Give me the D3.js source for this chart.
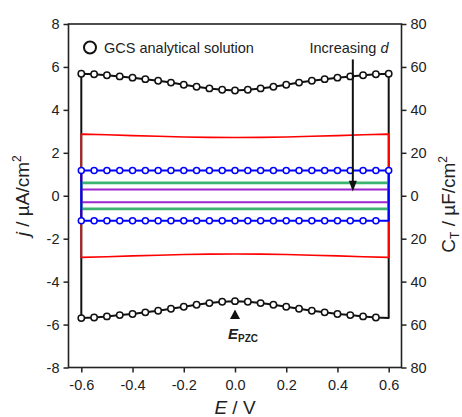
<!DOCTYPE html>
<html>
<head>
<meta charset="utf-8">
<script src="https://cdn.jsdelivr.net/npm/d3@7"></script>
<style>
  body { margin: 0; background: #fff; }
  svg { display: block; font-family: Arial, "Liberation Sans", sans-serif; }
</style>
</head>
<body>
<div id="chart"></div>
<script>
// potentials (V) of the GCS markers
const potentials = [-0.6, -0.55, -0.5, -0.45, -0.4, -0.35, -0.3, -0.25, -0.2, -0.15, -0.1, -0.05,
    0, 0.05, 0.1, 0.15, 0.2, 0.25, 0.3, 0.35, 0.4, 0.45, 0.5, 0.55, 0.6];
// GCS analytical solution, forward (anodic) branch, uA/cm2
const gcsForward = [5.68, 5.66, 5.61, 5.56, 5.50, 5.43, 5.36, 5.27, 5.17, 5.08, 5.00, 4.94,
    4.90, 4.94, 5.00, 5.08, 5.17, 5.27, 5.36, 5.43, 5.50, 5.56, 5.61, 5.66, 5.68];
// reverse branch
const gcsReverse = [-5.70, -5.67, -5.62, -5.56, -5.51, -5.43, -5.36, -5.26, -5.17, -5.08, -5.00, -4.94,
    -4.91, -4.94, -5.00, -5.08, -5.17, -5.26, -5.36, -5.43, -5.51, -5.56, -5.62, -5.67, -5.70];

// simulated CVs for increasing d
const redPotentials = [-0.6, -0.5, -0.4, -0.3, -0.2, -0.1, 0, 0.1, 0.2, 0.3, 0.4, 0.5, 0.6];
const redForward = [2.87, 2.84, 2.80, 2.77, 2.74, 2.72, 2.71, 2.72, 2.74, 2.77, 2.80, 2.84, 2.87];
const redReverse = [-2.87, -2.84, -2.80, -2.77, -2.74, -2.72, -2.71, -2.72, -2.74, -2.77, -2.80, -2.84, -2.87];

const bluePotentials = potentials;
const blueForward = [1.18, 1.18, 1.18, 1.18, 1.18, 1.18, 1.18, 1.18, 1.18, 1.18, 1.18, 1.18, 1.18,
    1.18, 1.18, 1.18, 1.18, 1.18, 1.18, 1.18, 1.18, 1.18, 1.18, 1.18, 1.18];
const blueReverse = [-1.17, -1.17, -1.17, -1.17, -1.17, -1.17, -1.17, -1.17, -1.17, -1.17, -1.17, -1.17, -1.17,
    -1.17, -1.17, -1.17, -1.17, -1.17, -1.17, -1.17, -1.17, -1.17, -1.17, -1.17, -1.17];

const flatPotentials = [-0.6, 0.6];
const greenForward = [0.60, 0.60];
const greenReverse = [-0.61, -0.61];
const purpleForward = [0.29, 0.29];
const purpleReverse = [-0.30, -0.30];

const xTicks = [-0.6, -0.4, -0.2, 0.0, 0.2, 0.4, 0.6];
const yTicks = [-8, -6, -4, -2, 0, 2, 4, 6, 8];
const ctTickLabels = ["80", "60", "40", "20", "0", "20", "40", "60", "80"];

const W = 462, H = 417;
const svg = d3.select("#chart").append("svg")
    .attr("width", W)
    .attr("height", H);

const x = d3.scaleLinear().domain([-0.65, 0.65]).range([68.5, 401.5]);
const y = d3.scaleLinear().domain([-8, 8]).range([367.5, 24]);

// a CV loop: forward branch, then the reverse branch back
function loop(pots, fwd, rev) {
    const pts = pots.map((e, i) => [e, fwd[i]]);
    const back = pots.map((e, i) => [e, rev[i]]).reverse();
    return pts.concat(back);
}

const line = d3.line().x(d => x(d[0])).y(d => y(d[1]));

function drawLoop(pts, color, width) {
    svg.append("path")
        .attr("d", line(pts) + "Z")
        .attr("fill", "none")
        .attr("stroke", color)
        .attr("stroke-width", width)
        .attr("stroke-linejoin", "round");
}

function drawMarkers(pts, color, r) {
    svg.append("g").selectAll("circle")
        .data(pts)
        .enter().append("circle")
        .attr("cx", d => x(d[0]))
        .attr("cy", d => y(d[1]))
        .attr("r", r)
        .attr("fill", "#fff")
        .attr("stroke", color)
        .attr("stroke-width", 1.5);
}

drawLoop(loop(potentials, gcsForward, gcsReverse), "#111", 2);
drawLoop(loop(redPotentials, redForward, redReverse), "#ff0000", 1.6);
drawLoop(loop(flatPotentials, greenForward, greenReverse), "#3cb371", 2.6);
drawLoop(loop(flatPotentials, purpleForward, purpleReverse), "#9b27d0", 2);
drawLoop(loop(bluePotentials, blueForward, blueReverse), "#0000ff", 2);

// markers: all forward points, reverse points except the vertex
const revMarks = (pots, rev) => pots.map((e, i) => [e, rev[i]]).filter(d => d[0] < 0.59);
drawMarkers(potentials.map((e, i) => [e, blueForward[i]]), "#0000ff", 3);
drawMarkers(revMarks(potentials, blueReverse), "#0000ff", 3);
drawMarkers(potentials.map((e, i) => [e, gcsForward[i]]), "#111", 3.2);
drawMarkers(revMarks(potentials, gcsReverse), "#111", 3.2);

// frame
svg.append("rect")
    .attr("x", x(-0.65)).attr("y", y(8))
    .attr("width", x(0.65) - x(-0.65))
    .attr("height", y(-8) - y(8))
    .attr("fill", "none")
    .attr("stroke", "#222")
    .attr("stroke-width", 1.6);

const axisFont = g => g.selectAll("text")
    .attr("font-size", 14.5)
    .attr("fill", "#222")
    .attr("font-family", "Arial, 'Liberation Sans', sans-serif");

const leftAxis = svg.append("g")
    .attr("transform", `translate(${x(-0.65)},0)`)
    .call(d3.axisLeft(y).tickValues(yTicks).tickSize(5).tickPadding(4).tickFormat(d => String(d)))
    .call(axisFont);

const rightAxis = svg.append("g")
    .attr("transform", `translate(${x(0.65)},0)`)
    .call(d3.axisRight(y).tickValues(yTicks).tickSize(5).tickPadding(4)
        .tickFormat((d, i) => ctTickLabels[i]))
    .call(axisFont);

const bottomAxis = svg.append("g")
    .attr("transform", `translate(0,${y(-8)})`)
    .call(d3.axisBottom(x).tickValues(xTicks).tickSize(5).tickPadding(7).tickFormat(d => d.toFixed(1)))
    .call(axisFont);

[leftAxis, rightAxis, bottomAxis].forEach(g => {
    g.select(".domain").remove();
    g.selectAll("line").attr("stroke", "#222").attr("stroke-width", 1.5);
});

// axis titles
svg.append("text")
    .attr("transform", `translate(${x(0)},${414}) `)
    .attr("text-anchor", "middle")
    .attr("font-size", 19)
    .attr("fill", "#222")
    .html('<tspan font-style="italic">E</tspan> / V');

svg.append("text")
    .attr("transform", `translate(29,${y(0)}) rotate(-90)`)
    .attr("text-anchor", "middle")
    .attr("font-size", 19)
    .attr("fill", "#222")
    .html('<tspan font-style="italic">j</tspan> / µA/cm<tspan dy="-8" font-size="12">2</tspan>');

svg.append("text")
    .attr("transform", `translate(455,${y(-0.4)}) rotate(-90)`)
    .attr("text-anchor", "middle")
    .attr("font-size", 19)
    .attr("fill", "#222")
    .html('C<tspan dy="4" font-size="12">T</tspan><tspan dy="-4"> / µF/cm</tspan><tspan dy="-8" font-size="12">2</tspan>');

// legend
svg.append("circle")
    .attr("cx", 90).attr("cy", 47.5).attr("r", 6)
    .attr("fill", "#fff").attr("stroke", "#111").attr("stroke-width", 2);
svg.append("text")
    .attr("x", 104).attr("y", 52.5)
    .attr("font-size", 14.5)
    .attr("fill", "#222")
    .text("GCS analytical solution");

// increasing d arrow
const arrowX = x(0.46);
svg.append("text")
    .attr("x", 349).attr("y", 52.5)
    .attr("text-anchor", "middle")
    .attr("font-size", 14.5)
    .attr("fill", "#222")
    .html('Increasing <tspan font-style="italic">d</tspan>');
svg.append("line")
    .attr("x1", arrowX).attr("x2", arrowX)
    .attr("y1", y(6.35)).attr("y2", y(0.6))
    .attr("stroke", "#111").attr("stroke-width", 2);
svg.append("path")
    .attr("d", `M${arrowX - 4},${y(0.7)} L${arrowX + 4},${y(0.7)} L${arrowX},${y(0.2)} Z`)
    .attr("fill", "#111");

// E_pzc marker
const pzcX = x(0);
svg.append("path")
    .attr("d", `M${pzcX - 5},${y(-5.74)} L${pzcX + 5},${y(-5.74)} L${pzcX},${y(-5.3)} Z`)
    .attr("fill", "#111");
svg.append("text")
    .attr("x", pzcX - 7).attr("y", 339)
    .attr("font-size", 15)
    .attr("font-weight", "bold")
    .attr("fill", "#222")
    .html('<tspan font-style="italic">E</tspan><tspan dy="3" font-size="10">PZC</tspan>');
</script>
</body>
</html>
